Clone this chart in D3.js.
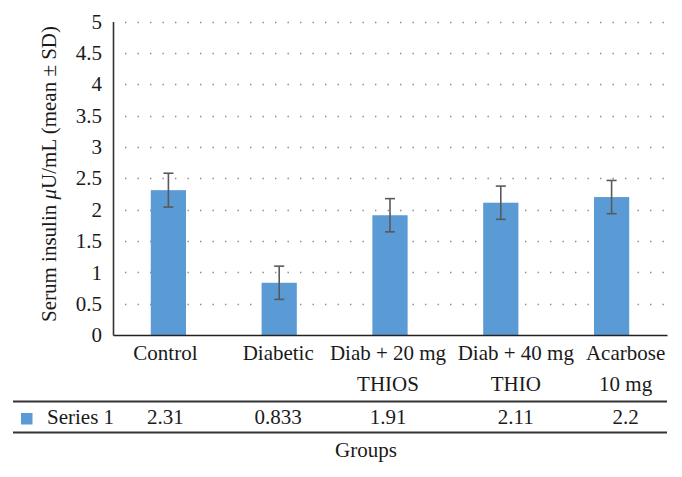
<!DOCTYPE html>
<html>
<head>
<meta charset="utf-8">
<script src="https://cdn.jsdelivr.net/npm/d3@7"></script>
<style>
  html, body { margin: 0; padding: 0; background: #fff; }
  svg { display: block; }
  svg text { font-family: 'Liberation Serif', 'DejaVu Serif', serif !important; fill: #1a1a1a; }
</style>
</head>
<body>
<svg id="chart" width="682" height="477"></svg>
<script>
// ---- data ----
const categories = ["Control", "Diabetic", "Diab + 20 mg", "Diab + 40 mg", "Acarbose"];
const categoryLine2 = ["", "", "THIOS", "THIO", "10 mg"];
const seriesName = "Series 1";
const values = [2.31, 0.833, 1.91, 2.11, 2.2];
const valueLabels = ["2.31", "0.833", "1.91", "2.11", "2.2"];
const errors = [0.27, 0.265, 0.265, 0.265, 0.265];
const yTicks = [0, 0.5, 1, 1.5, 2, 2.5, 3, 3.5, 4, 4.5, 5];
const yTickLabels = ["0", "0.5", "1", "1.5", "2", "2.5", "3", "3.5", "4", "4.5", "5"];
const yTitle = "Serum insulin ";
const xTitle = "Groups";

// ---- layout ----
const plot = { left: 113, right: 667, top: 21.5, bottom: 335 };
const colShift = [-3, -1, -2, 15, 14];
const barColor = "#5B9BD5";
const fontSize = 21;
const FONT = "'Liberation Serif', 'DejaVu Serif', serif";

const svg = d3.select("#chart").attr("font-family", FONT);

const x = d3.scaleBand().domain(categories).range([plot.left, plot.right]).padding(0);
const y = d3.scaleLinear().domain([0, 5]).range([plot.bottom, plot.top]);
const barW = x.bandwidth() * 0.318;

// gridlines (dotted)
svg.append("g").selectAll("line")
  .data(yTicks.filter(t => t > 0))
  .join("line")
  .attr("x1", plot.left + 12)
  .attr("x2", plot.right)
  .attr("y1", d => Math.round(y(d)) + 0.5)
  .attr("y2", d => Math.round(y(d)) + 0.5)
  .attr("stroke", "#8a8a8a")
  .attr("stroke-width", 1.4)
  .attr("stroke-dasharray", "1.4,11.1");

// bars
svg.append("g").selectAll("rect")
  .data(values)
  .join("rect")
  .attr("x", (d, i) => x(categories[i]) + x.bandwidth() / 2 - barW / 2)
  .attr("y", d => y(d))
  .attr("width", barW)
  .attr("height", d => y(0) - y(d))
  .attr("fill", barColor);

// error bars
const eg = svg.append("g").attr("stroke", "#595959").attr("stroke-width", 1.6).attr("fill", "none");
values.forEach((v, i) => {
  const cx = x(categories[i]) + x.bandwidth() / 2;
  const top = y(v + errors[i]), bot = y(v - errors[i]);
  eg.append("line").attr("x1", cx).attr("x2", cx).attr("y1", top).attr("y2", bot);
  eg.append("line").attr("x1", cx - 5).attr("x2", cx + 5).attr("y1", top).attr("y2", top);
  eg.append("line").attr("x1", cx - 5).attr("x2", cx + 5).attr("y1", bot).attr("y2", bot);
});

// y axis
const yAxis = d3.axisLeft(y).tickValues(yTicks).tickFormat((d, i) => yTickLabels[i]).tickSize(0).tickPadding(11);
const yg = svg.append("g").attr("transform", `translate(${plot.left},0)`).call(yAxis);
yg.attr("font-family", FONT).attr("font-size", fontSize);
yg.select(".domain").attr("stroke", "#333").attr("stroke-width", 1.6);
yg.selectAll("text").attr("font-size", fontSize).attr("font-family", FONT).attr("fill", "#1a1a1a");

// x axis baseline
const xAxis = d3.axisBottom(x).tickSize(0).tickFormat("");
const xg = svg.append("g").attr("transform", `translate(0,${plot.bottom})`).call(xAxis);
xg.select(".domain").attr("stroke", "#222").attr("stroke-width", 1.6);

function txt(sel) {
  return sel.attr("font-family", FONT).attr("font-size", fontSize).attr("fill", "#1a1a1a");
}

// category labels
txt(svg.append("g").selectAll("text")
  .data(categories)
  .join("text")
  .attr("x", (d, i) => x(d) + x.bandwidth() / 2 + colShift[i])
  .attr("y", 360)
  .attr("text-anchor", "middle")
  .text(d => d));
txt(svg.append("g").selectAll("text")
  .data(categoryLine2)
  .join("text")
  .attr("x", (d, i) => x(categories[i]) + x.bandwidth() / 2 + colShift[i])
  .attr("y", 391)
  .attr("text-anchor", "middle")
  .text(d => d));

// data table lines
svg.append("line").attr("x1", 13).attr("x2", plot.right).attr("y1", 401.5).attr("y2", 401.5)
  .attr("stroke", "#333").attr("stroke-width", 1.8);
svg.append("line").attr("x1", 13).attr("x2", plot.right).attr("y1", 432.5).attr("y2", 432.5)
  .attr("stroke", "#333").attr("stroke-width", 1.8);

// legend key + series name
svg.append("rect").attr("x", 21).attr("y", 413).attr("width", 11.5).attr("height", 11.5).attr("fill", barColor);
txt(svg.append("text").attr("x", 47).attr("y", 424).text(seriesName));

// value row
txt(svg.append("g").selectAll("text")
  .data(valueLabels)
  .join("text")
  .attr("x", (d, i) => x(categories[i]) + x.bandwidth() / 2 + colShift[i])
  .attr("y", 424)
  .attr("text-anchor", "middle")
  .text(d => d));

// x title
txt(svg.append("text").attr("x", 366).attr("y", 457).attr("text-anchor", "middle").text(xTitle));

// y title
const yt = txt(svg.append("text")
  .attr("transform", "translate(56,174) rotate(-90)")
  .attr("text-anchor", "middle"));
yt.append("tspan").text(yTitle);
yt.append("tspan").attr("font-style", "italic").text("μ");
yt.append("tspan").text("U/mL (mean ± SD)");
</script>
</body>
</html>
